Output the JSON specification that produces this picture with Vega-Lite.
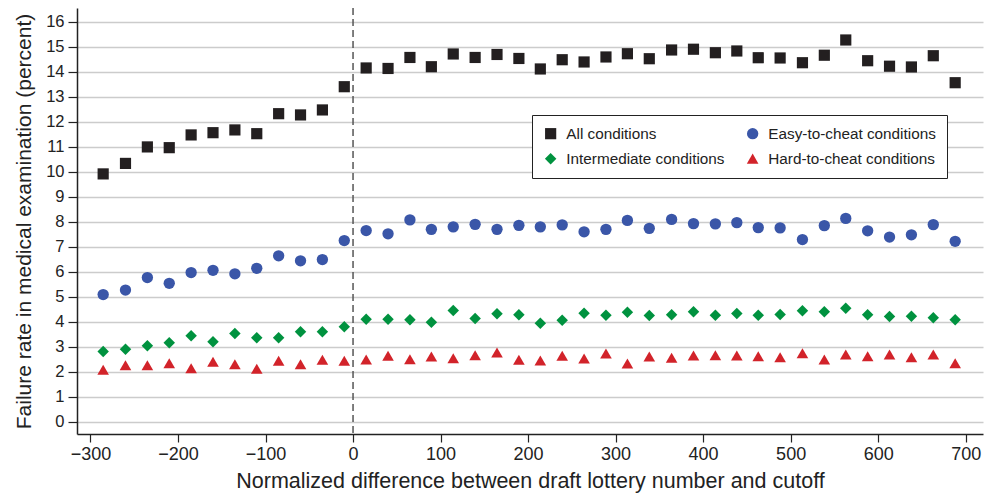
{
  "$schema": "https://vega.github.io/schema/vega-lite/v6.json",
  "width": 906,
  "height": 426,
  "autosize": "none",
  "padding": {"left": 77, "top": 8, "right": 2, "bottom": 61},
  "background": "white",
  "config": {
    "font": "Liberation Sans",
    "view": {"stroke": null},
    "axis": {
      "labelFont": "Liberation Sans",
      "titleFont": "Liberation Sans",
      "labelColor": "#222222",
      "titleFontWeight": "normal",
      "titleColor": "#222222",
      "domainColor": "#222222",
      "domainWidth": 1.5,
      "tickColor": "#222222",
      "tickWidth": 1.2
    },
    "legend": {
      "labelFont": "Liberation Sans",
      "labelFontSize": 15.3,
      "labelColor": "#222222",
      "labelLimit": 400
    }
  },
  "encoding": {
    "x": {
      "field": "x",
      "type": "quantitative",
      "scale": {"domain": [-315.4, 719.8], "nice": false, "zero": false},
      "axis": {
        "values": [-300, -200, -100, 0, 100, 200, 300, 400, 500, 600, 700],
        "grid": false,
        "tickSize": 8,
        "labelPadding": 3,
        "labelFontSize": 18,
        "titleFontSize": 21.5,
        "titlePadding": 7
      },
      "title": "Normalized difference between draft lottery number and cutoff"
    }
  },
  "layer": [
    {
      "data": {"values": [{"x": 0}]},
      "mark": {"type": "rule", "strokeDash": [7, 4], "color": "#555555", "strokeWidth": 1.5},
      "encoding": {}
    },
    {
      "data": {
        "values": [
          {"x": -285.5, "s": "All conditions", "y": 9.91},
          {"x": -260, "s": "All conditions", "y": 10.33},
          {"x": -235, "s": "All conditions", "y": 10.99},
          {"x": -210, "s": "All conditions", "y": 10.96},
          {"x": -185, "s": "All conditions", "y": 11.47},
          {"x": -160, "s": "All conditions", "y": 11.56},
          {"x": -135, "s": "All conditions", "y": 11.67},
          {"x": -110, "s": "All conditions", "y": 11.52},
          {"x": -85, "s": "All conditions", "y": 12.32},
          {"x": -60, "s": "All conditions", "y": 12.27},
          {"x": -35, "s": "All conditions", "y": 12.47},
          {"x": -10, "s": "All conditions", "y": 13.4},
          {"x": 15, "s": "All conditions", "y": 14.15},
          {"x": 40, "s": "All conditions", "y": 14.13},
          {"x": 65, "s": "All conditions", "y": 14.57},
          {"x": 89.5, "s": "All conditions", "y": 14.2},
          {"x": 114.5, "s": "All conditions", "y": 14.71},
          {"x": 139.5, "s": "All conditions", "y": 14.57},
          {"x": 164.5, "s": "All conditions", "y": 14.69},
          {"x": 189.5, "s": "All conditions", "y": 14.53},
          {"x": 214, "s": "All conditions", "y": 14.11},
          {"x": 239, "s": "All conditions", "y": 14.48},
          {"x": 264, "s": "All conditions", "y": 14.39},
          {"x": 289, "s": "All conditions", "y": 14.59},
          {"x": 313.5, "s": "All conditions", "y": 14.72},
          {"x": 338.5, "s": "All conditions", "y": 14.52},
          {"x": 364, "s": "All conditions", "y": 14.87},
          {"x": 389, "s": "All conditions", "y": 14.9},
          {"x": 414, "s": "All conditions", "y": 14.76},
          {"x": 438.5, "s": "All conditions", "y": 14.83},
          {"x": 463, "s": "All conditions", "y": 14.56},
          {"x": 488, "s": "All conditions", "y": 14.55},
          {"x": 513.5, "s": "All conditions", "y": 14.36},
          {"x": 538.5, "s": "All conditions", "y": 14.66},
          {"x": 563, "s": "All conditions", "y": 15.27},
          {"x": 588, "s": "All conditions", "y": 14.44},
          {"x": 613, "s": "All conditions", "y": 14.22},
          {"x": 638, "s": "All conditions", "y": 14.19},
          {"x": 663, "s": "All conditions", "y": 14.64},
          {"x": 688, "s": "All conditions", "y": 13.56},

          {"x": -285.5, "s": "Easy-to-cheat conditions", "y": 5.08},
          {"x": -260, "s": "Easy-to-cheat conditions", "y": 5.26},
          {"x": -235, "s": "Easy-to-cheat conditions", "y": 5.76},
          {"x": -210, "s": "Easy-to-cheat conditions", "y": 5.53},
          {"x": -185, "s": "Easy-to-cheat conditions", "y": 5.96},
          {"x": -160, "s": "Easy-to-cheat conditions", "y": 6.05},
          {"x": -135, "s": "Easy-to-cheat conditions", "y": 5.91},
          {"x": -110, "s": "Easy-to-cheat conditions", "y": 6.13},
          {"x": -85, "s": "Easy-to-cheat conditions", "y": 6.63},
          {"x": -60, "s": "Easy-to-cheat conditions", "y": 6.43},
          {"x": -35, "s": "Easy-to-cheat conditions", "y": 6.48},
          {"x": -10, "s": "Easy-to-cheat conditions", "y": 7.24},
          {"x": 15, "s": "Easy-to-cheat conditions", "y": 7.64},
          {"x": 40, "s": "Easy-to-cheat conditions", "y": 7.51},
          {"x": 65, "s": "Easy-to-cheat conditions", "y": 8.07},
          {"x": 89.5, "s": "Easy-to-cheat conditions", "y": 7.69},
          {"x": 114.5, "s": "Easy-to-cheat conditions", "y": 7.79},
          {"x": 139.5, "s": "Easy-to-cheat conditions", "y": 7.89},
          {"x": 164.5, "s": "Easy-to-cheat conditions", "y": 7.69},
          {"x": 189.5, "s": "Easy-to-cheat conditions", "y": 7.85},
          {"x": 214, "s": "Easy-to-cheat conditions", "y": 7.79},
          {"x": 239, "s": "Easy-to-cheat conditions", "y": 7.87},
          {"x": 264, "s": "Easy-to-cheat conditions", "y": 7.59},
          {"x": 289, "s": "Easy-to-cheat conditions", "y": 7.69},
          {"x": 313.5, "s": "Easy-to-cheat conditions", "y": 8.05},
          {"x": 338.5, "s": "Easy-to-cheat conditions", "y": 7.73},
          {"x": 364, "s": "Easy-to-cheat conditions", "y": 8.09},
          {"x": 389, "s": "Easy-to-cheat conditions", "y": 7.92},
          {"x": 414, "s": "Easy-to-cheat conditions", "y": 7.91},
          {"x": 438.5, "s": "Easy-to-cheat conditions", "y": 7.96},
          {"x": 463, "s": "Easy-to-cheat conditions", "y": 7.76},
          {"x": 488, "s": "Easy-to-cheat conditions", "y": 7.75},
          {"x": 513.5, "s": "Easy-to-cheat conditions", "y": 7.28},
          {"x": 538.5, "s": "Easy-to-cheat conditions", "y": 7.84},
          {"x": 563, "s": "Easy-to-cheat conditions", "y": 8.13},
          {"x": 588, "s": "Easy-to-cheat conditions", "y": 7.63},
          {"x": 613, "s": "Easy-to-cheat conditions", "y": 7.38},
          {"x": 638, "s": "Easy-to-cheat conditions", "y": 7.47},
          {"x": 663, "s": "Easy-to-cheat conditions", "y": 7.88},
          {"x": 688, "s": "Easy-to-cheat conditions", "y": 7.21},

          {"x": -285.5, "s": "Intermediate conditions", "y": 2.8},
          {"x": -260, "s": "Intermediate conditions", "y": 2.89},
          {"x": -235, "s": "Intermediate conditions", "y": 3.03},
          {"x": -210, "s": "Intermediate conditions", "y": 3.15},
          {"x": -185, "s": "Intermediate conditions", "y": 3.43},
          {"x": -160, "s": "Intermediate conditions", "y": 3.19},
          {"x": -135, "s": "Intermediate conditions", "y": 3.52},
          {"x": -110, "s": "Intermediate conditions", "y": 3.35},
          {"x": -85, "s": "Intermediate conditions", "y": 3.35},
          {"x": -60, "s": "Intermediate conditions", "y": 3.59},
          {"x": -35, "s": "Intermediate conditions", "y": 3.59},
          {"x": -10, "s": "Intermediate conditions", "y": 3.79},
          {"x": 15, "s": "Intermediate conditions", "y": 4.09},
          {"x": 40, "s": "Intermediate conditions", "y": 4.09},
          {"x": 65, "s": "Intermediate conditions", "y": 4.07},
          {"x": 89.5, "s": "Intermediate conditions", "y": 3.97},
          {"x": 114.5, "s": "Intermediate conditions", "y": 4.44},
          {"x": 139.5, "s": "Intermediate conditions", "y": 4.12},
          {"x": 164.5, "s": "Intermediate conditions", "y": 4.31},
          {"x": 189.5, "s": "Intermediate conditions", "y": 4.27},
          {"x": 214, "s": "Intermediate conditions", "y": 3.93},
          {"x": 239, "s": "Intermediate conditions", "y": 4.05},
          {"x": 264, "s": "Intermediate conditions", "y": 4.33},
          {"x": 289, "s": "Intermediate conditions", "y": 4.25},
          {"x": 313.5, "s": "Intermediate conditions", "y": 4.37},
          {"x": 338.5, "s": "Intermediate conditions", "y": 4.24},
          {"x": 364, "s": "Intermediate conditions", "y": 4.27},
          {"x": 389, "s": "Intermediate conditions", "y": 4.39},
          {"x": 414, "s": "Intermediate conditions", "y": 4.25},
          {"x": 438.5, "s": "Intermediate conditions", "y": 4.32},
          {"x": 463, "s": "Intermediate conditions", "y": 4.25},
          {"x": 488, "s": "Intermediate conditions", "y": 4.28},
          {"x": 513.5, "s": "Intermediate conditions", "y": 4.43},
          {"x": 538.5, "s": "Intermediate conditions", "y": 4.39},
          {"x": 563, "s": "Intermediate conditions", "y": 4.53},
          {"x": 588, "s": "Intermediate conditions", "y": 4.27},
          {"x": 613, "s": "Intermediate conditions", "y": 4.2},
          {"x": 638, "s": "Intermediate conditions", "y": 4.21},
          {"x": 663, "s": "Intermediate conditions", "y": 4.15},
          {"x": 688, "s": "Intermediate conditions", "y": 4.07},

          {"x": -285.5, "s": "Hard-to-cheat conditions", "y": 2.07},
          {"x": -260, "s": "Hard-to-cheat conditions", "y": 2.25},
          {"x": -235, "s": "Hard-to-cheat conditions", "y": 2.25},
          {"x": -210, "s": "Hard-to-cheat conditions", "y": 2.33},
          {"x": -185, "s": "Hard-to-cheat conditions", "y": 2.13},
          {"x": -160, "s": "Hard-to-cheat conditions", "y": 2.39},
          {"x": -135, "s": "Hard-to-cheat conditions", "y": 2.29},
          {"x": -110, "s": "Hard-to-cheat conditions", "y": 2.11},
          {"x": -85, "s": "Hard-to-cheat conditions", "y": 2.43},
          {"x": -60, "s": "Hard-to-cheat conditions", "y": 2.29},
          {"x": -35, "s": "Hard-to-cheat conditions", "y": 2.47},
          {"x": -10, "s": "Hard-to-cheat conditions", "y": 2.43},
          {"x": 15, "s": "Hard-to-cheat conditions", "y": 2.48},
          {"x": 40, "s": "Hard-to-cheat conditions", "y": 2.63},
          {"x": 65, "s": "Hard-to-cheat conditions", "y": 2.49},
          {"x": 89.5, "s": "Hard-to-cheat conditions", "y": 2.6},
          {"x": 114.5, "s": "Hard-to-cheat conditions", "y": 2.53},
          {"x": 139.5, "s": "Hard-to-cheat conditions", "y": 2.65},
          {"x": 164.5, "s": "Hard-to-cheat conditions", "y": 2.76},
          {"x": 189.5, "s": "Hard-to-cheat conditions", "y": 2.47},
          {"x": 214, "s": "Hard-to-cheat conditions", "y": 2.44},
          {"x": 239, "s": "Hard-to-cheat conditions", "y": 2.63},
          {"x": 264, "s": "Hard-to-cheat conditions", "y": 2.52},
          {"x": 289, "s": "Hard-to-cheat conditions", "y": 2.72},
          {"x": 313.5, "s": "Hard-to-cheat conditions", "y": 2.32},
          {"x": 338.5, "s": "Hard-to-cheat conditions", "y": 2.6},
          {"x": 364, "s": "Hard-to-cheat conditions", "y": 2.55},
          {"x": 389, "s": "Hard-to-cheat conditions", "y": 2.64},
          {"x": 414, "s": "Hard-to-cheat conditions", "y": 2.65},
          {"x": 438.5, "s": "Hard-to-cheat conditions", "y": 2.64},
          {"x": 463, "s": "Hard-to-cheat conditions", "y": 2.61},
          {"x": 488, "s": "Hard-to-cheat conditions", "y": 2.57},
          {"x": 513.5, "s": "Hard-to-cheat conditions", "y": 2.73},
          {"x": 538.5, "s": "Hard-to-cheat conditions", "y": 2.48},
          {"x": 563, "s": "Hard-to-cheat conditions", "y": 2.68},
          {"x": 588, "s": "Hard-to-cheat conditions", "y": 2.61},
          {"x": 613, "s": "Hard-to-cheat conditions", "y": 2.68},
          {"x": 638, "s": "Hard-to-cheat conditions", "y": 2.57},
          {"x": 663, "s": "Hard-to-cheat conditions", "y": 2.68},
          {"x": 688, "s": "Hard-to-cheat conditions", "y": 2.33}
        ]
      },
      "mark": {"type": "point", "filled": true, "opacity": 1, "strokeWidth": 0},
      "encoding": {
        "y": {
          "field": "y",
          "type": "quantitative",
          "scale": {"domain": [-0.5, 16.55], "nice": false, "zero": false},
          "axis": {
            "values": [0, 1, 2, 3, 4, 5, 6, 7, 8, 9, 10, 11, 12, 13, 14, 15, 16],
            "grid": true,
            "gridColor": "#cccccc",
            "gridWidth": 1.5,
            "tickSize": 9,
            "labelPadding": 4,
            "labelFontSize": 16.5,
            "titleFontSize": 21,
            "titlePadding": 11
          },
          "title": "Failure rate in medical examination (percent)"
        },
        "color": {
          "field": "s",
          "type": "nominal",
          "scale": {
            "domain": ["All conditions", "Easy-to-cheat conditions", "Intermediate conditions", "Hard-to-cheat conditions"],
            "range": ["#231f20", "#3a56a8", "#00923f", "#d2232a"]
          },
          "legend": {
            "title": null,
            "orient": "none",
            "direction": "horizontal",
            "legendX": 455,
            "legendY": 107,
            "columns": 2,
            "padding": 11,
            "rowPadding": 9,
            "columnPadding": 20,
            "labelOffset": 8,
            "strokeColor": "#222222",
            "fillColor": "white",
            "symbolOpacity": 1,
            "symbolStrokeWidth": 0,
            "symbolSize": 140
          }
        },
        "shape": {
          "field": "s",
          "type": "nominal",
          "scale": {
            "domain": ["All conditions", "Easy-to-cheat conditions", "Intermediate conditions", "Hard-to-cheat conditions"],
            "range": ["square", "circle", "diamond", "triangle-up"]
          }
        },
        "size": {
          "field": "s",
          "type": "nominal",
          "legend": null,
          "scale": {
            "domain": ["All conditions", "Easy-to-cheat conditions", "Intermediate conditions", "Hard-to-cheat conditions"],
            "range": [125, 135, 175, 165]
          }
        }
      }
    }
  ]
}
